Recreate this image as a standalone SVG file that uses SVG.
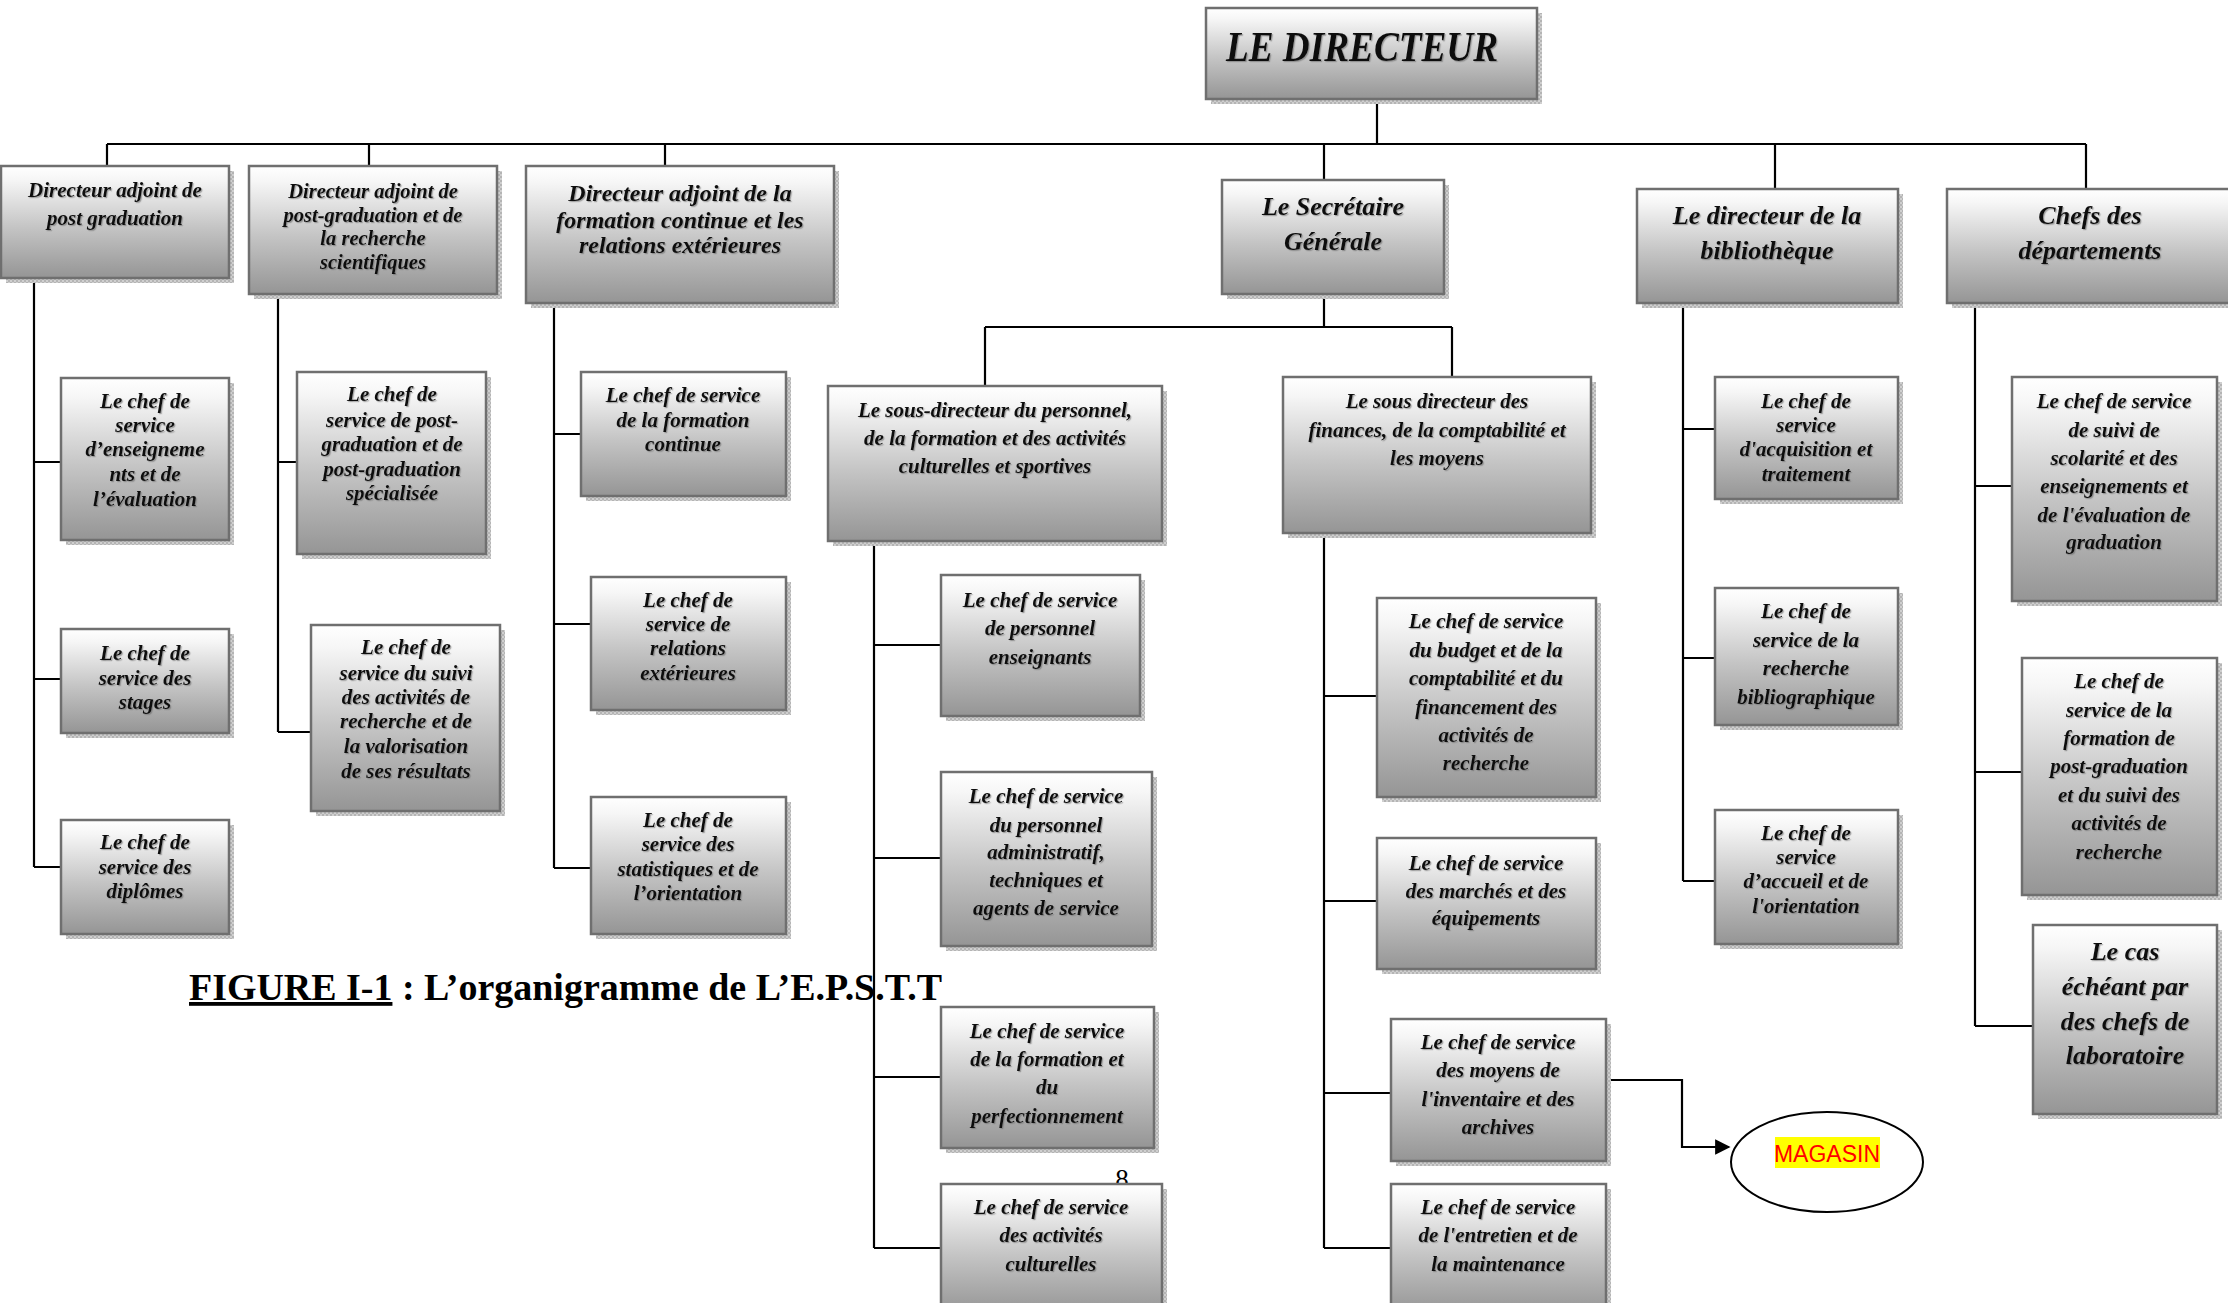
<svg xmlns="http://www.w3.org/2000/svg" width="2228" height="1303" viewBox="0 0 2228 1303">
  <defs>
    <linearGradient id="boxFill" x1="0" y1="0" x2="0" y2="1">
      <stop offset="0" stop-color="#ffffff"/>
      <stop offset="0.12" stop-color="#f6f6f6"/>
      <stop offset="0.55" stop-color="#c4c4c4"/>
      <stop offset="1" stop-color="#959595"/>
    </linearGradient>
    <pattern id="shadowDots" width="4" height="4" patternUnits="userSpaceOnUse">
      <rect width="4" height="4" fill="#cfcfcf"/>
      <rect width="2" height="2" fill="#b4b4b4"/>
      <rect x="2" y="2" width="2" height="2" fill="#b4b4b4"/>
    </pattern>
    <filter id="textShade" x="-5%" y="-20%" width="110%" height="140%">
      <feDropShadow dx="1.2" dy="1.2" stdDeviation="0.7" flood-color="#6a6a6a" flood-opacity="0.55"/>
    </filter>
    <marker id="arrowHead" viewBox="0 0 10 10" refX="9" refY="5" markerWidth="7" markerHeight="7" markerUnits="strokeWidth" orient="auto">
      <path d="M0 0 L10 5 L0 10 Z" fill="#000"/>
    </marker>
  </defs>
  <style>
    .sh { fill: url(#shadowDots); }
    .bx { fill: url(#boxFill); stroke: #6f6f6f; stroke-width: 2.5; }
    .t { font-family: "Liberation Serif", "Times New Roman", serif; font-weight: bold; font-style: italic; fill: #111; text-anchor: middle; filter: url(#textShade); }
    .s21 { font-size: 21px; }
    .s20 { font-size: 20.5px; }
    .s24 { font-size: 24px; }
    .s26 { font-size: 26px; }
    .ln { fill: none; stroke: #000; stroke-width: 2.2; }
  </style>
  <rect width="2228" height="1303" fill="#fff"/>

  <!-- connectors -->
  <g id="connectors" class="ln">
    <path d="M1377 99 V144 M107 144 H2086 M107 144 V166 M369 144 V166 M665 144 V166 M1324 144 V180 M1775 144 V189 M2086 144 V189"/>
    <path d="M34 278 V867 M34 462 H61 M34 679 H61 M34 867 H61"/>
    <path d="M278 294 V732 M278 462 H297 M278 732 H311"/>
    <path d="M554 303 V868 M554 434 H581 M554 624 H591 M554 868 H591"/>
    <path d="M1324 294 V327 M985 327 H1452 M985 327 V386 M1452 327 V377"/>
    <path d="M874 541 V1248 M874 645 H941 M874 858 H941 M874 1077 H941 M874 1248 H941"/>
    <path d="M1324 533 V1248 M1324 696 H1377 M1324 901 H1377 M1324 1093 H1391 M1324 1248 H1391"/>
    <path d="M1683 303 V881 M1683 429 H1715 M1683 658 H1715 M1683 881 H1715"/>
    <path d="M1975 303 V1026 M1975 486 H2012 M1975 772 H2022 M1975 1026 H2033"/>
    <path d="M1606 1080 H1682 V1147 H1729" marker-end="url(#arrowHead)"/>
  </g>

  <!-- page number, partly hidden by the box below it -->
  <text x="1122" y="1188" font-family="Liberation Serif, serif" font-size="27" text-anchor="middle">8</text>

  <!-- top level -->
  <g id="n_dir">
    <rect class="sh" x="1211" y="13" width="331" height="91"/>
    <rect class="bx" x="1206" y="8" width="331" height="91"/>
    <text class="t" x="1226" y="61" font-size="42" style="text-anchor:start" textLength="272" lengthAdjust="spacingAndGlyphs">LE DIRECTEUR</text>
  </g>

  <g id="n_dapg">
    <rect class="sh" x="6" y="171" width="228" height="112"/>
    <rect class="bx" x="1" y="166" width="228" height="112"/>
    <text class="t s21"><tspan x="115" y="197">Directeur adjoint de</tspan><tspan x="115" y="225">post graduation</tspan></text>
  </g>

  <g id="n_dapgr">
    <rect class="sh" x="254" y="171" width="248" height="128"/>
    <rect class="bx" x="249" y="166" width="248" height="128"/>
    <text class="t s20"><tspan x="373" y="198">Directeur adjoint de</tspan><tspan x="373" y="222">post-graduation et de</tspan><tspan x="373" y="245">la recherche</tspan><tspan x="373" y="269">scientifiques</tspan></text>
  </g>

  <g id="n_dafc">
    <rect class="sh" x="531" y="171" width="308" height="137"/>
    <rect class="bx" x="526" y="166" width="308" height="137"/>
    <text class="t s24"><tspan x="680" y="201">Directeur adjoint de la</tspan><tspan x="680" y="228">formation continue et les</tspan><tspan x="680" y="253">relations extérieures</tspan></text>
  </g>

  <g id="n_sg">
    <rect class="sh" x="1227" y="185" width="222" height="114"/>
    <rect class="bx" x="1222" y="180" width="222" height="114"/>
    <text class="t s26"><tspan x="1333" y="215">Le Secrétaire</tspan><tspan x="1333" y="250">Générale</tspan></text>
  </g>

  <g id="n_bib">
    <rect class="sh" x="1642" y="194" width="261" height="114"/>
    <rect class="bx" x="1637" y="189" width="261" height="114"/>
    <text class="t s26"><tspan x="1767" y="224">Le directeur de la</tspan><tspan x="1767" y="259">bibliothèque</tspan></text>
  </g>

  <g id="n_dep">
    <rect class="sh" x="1952" y="194" width="285" height="114"/>
    <rect class="bx" x="1947" y="189" width="285" height="114"/>
    <text class="t s26"><tspan x="2090" y="224">Chefs des</tspan><tspan x="2090" y="259">départements</tspan></text>
  </g>

  <!-- post-graduation branch -->
  <g id="n_ens">
    <rect class="sh" x="66" y="383" width="168" height="162"/>
    <rect class="bx" x="61" y="378" width="168" height="162"/>
    <text class="t s21"><tspan x="145" y="408">Le chef de</tspan><tspan x="145" y="432">service</tspan><tspan x="145" y="456">d’enseigneme</tspan><tspan x="145" y="481">nts et de</tspan><tspan x="145" y="506">l’évaluation</tspan></text>
  </g>
  <g id="n_stg">
    <rect class="sh" x="66" y="634" width="168" height="104"/>
    <rect class="bx" x="61" y="629" width="168" height="104"/>
    <text class="t s21"><tspan x="145" y="660">Le chef de</tspan><tspan x="145" y="685">service des</tspan><tspan x="145" y="709">stages</tspan></text>
  </g>
  <g id="n_dip">
    <rect class="sh" x="66" y="825" width="168" height="114"/>
    <rect class="bx" x="61" y="820" width="168" height="114"/>
    <text class="t s21"><tspan x="145" y="849">Le chef de</tspan><tspan x="145" y="874">service des</tspan><tspan x="145" y="898">diplômes</tspan></text>
  </g>

  <!-- research branch -->
  <g id="n_pgs">
    <rect class="sh" x="302" y="377" width="189" height="182"/>
    <rect class="bx" x="297" y="372" width="189" height="182"/>
    <text class="t s21"><tspan x="392" y="401">Le chef de</tspan><tspan x="392" y="427">service de post-</tspan><tspan x="392" y="451">graduation et de</tspan><tspan x="392" y="476">post-graduation</tspan><tspan x="392" y="500">spécialisée</tspan></text>
  </g>
  <g id="n_val">
    <rect class="sh" x="316" y="630" width="189" height="186"/>
    <rect class="bx" x="311" y="625" width="189" height="186"/>
    <text class="t s21"><tspan x="406" y="654">Le chef de</tspan><tspan x="406" y="680">service du suivi</tspan><tspan x="406" y="704">des activités de</tspan><tspan x="406" y="728">recherche et de</tspan><tspan x="406" y="753">la valorisation</tspan><tspan x="406" y="778">de ses résultats</tspan></text>
  </g>

  <!-- continuing education branch -->
  <g id="n_fc">
    <rect class="sh" x="586" y="377" width="205" height="124"/>
    <rect class="bx" x="581" y="372" width="205" height="124"/>
    <text class="t s21"><tspan x="683" y="402">Le chef de service</tspan><tspan x="683" y="427">de la formation</tspan><tspan x="683" y="451">continue</tspan></text>
  </g>
  <g id="n_rel">
    <rect class="sh" x="596" y="582" width="195" height="133"/>
    <rect class="bx" x="591" y="577" width="195" height="133"/>
    <text class="t s21"><tspan x="688" y="607">Le chef de</tspan><tspan x="688" y="631">service de</tspan><tspan x="688" y="655">relations</tspan><tspan x="688" y="680">extérieures</tspan></text>
  </g>
  <g id="n_sta">
    <rect class="sh" x="596" y="802" width="195" height="137"/>
    <rect class="bx" x="591" y="797" width="195" height="137"/>
    <text class="t s21"><tspan x="688" y="827">Le chef de</tspan><tspan x="688" y="851">service des</tspan><tspan x="688" y="876">statistiques et de</tspan><tspan x="688" y="900">l’orientation</tspan></text>
  </g>

  <!-- secretariat: staff sub-direction -->
  <g id="n_sdp">
    <rect class="sh" x="833" y="391" width="334" height="155"/>
    <rect class="bx" x="828" y="386" width="334" height="155"/>
    <text class="t s21"><tspan x="995" y="417">Le sous-directeur du personnel,</tspan><tspan x="995" y="445">de la formation et des activités</tspan><tspan x="995" y="473">culturelles et sportives</tspan></text>
  </g>
  <g id="n_pe">
    <rect class="sh" x="946" y="580" width="199" height="141"/>
    <rect class="bx" x="941" y="575" width="199" height="141"/>
    <text class="t s21"><tspan x="1040" y="607">Le chef de service</tspan><tspan x="1040" y="635">de personnel</tspan><tspan x="1040" y="664">enseignants</tspan></text>
  </g>
  <g id="n_pa">
    <rect class="sh" x="946" y="777" width="211" height="174"/>
    <rect class="bx" x="941" y="772" width="211" height="174"/>
    <text class="t s21"><tspan x="1046" y="803">Le chef de service</tspan><tspan x="1046" y="832">du personnel</tspan><tspan x="1046" y="859">administratif,</tspan><tspan x="1046" y="887">techniques et</tspan><tspan x="1046" y="915">agents de service</tspan></text>
  </g>
  <g id="n_pf">
    <rect class="sh" x="946" y="1012" width="213" height="141"/>
    <rect class="bx" x="941" y="1007" width="213" height="141"/>
    <text class="t s21"><tspan x="1047" y="1038">Le chef de service</tspan><tspan x="1047" y="1066">de la formation et</tspan><tspan x="1047" y="1094">du</tspan><tspan x="1047" y="1123">perfectionnement</tspan></text>
  </g>
  <g id="n_ac">
    <rect class="sh" x="946" y="1189" width="221" height="130"/>
    <rect class="bx" x="941" y="1184" width="221" height="130"/>
    <text class="t s21"><tspan x="1051" y="1214">Le chef de service</tspan><tspan x="1051" y="1242">des activités</tspan><tspan x="1051" y="1271">culturelles</tspan></text>
  </g>

  <!-- secretariat: finance sub-direction -->
  <g id="n_sdf">
    <rect class="sh" x="1288" y="382" width="308" height="156"/>
    <rect class="bx" x="1283" y="377" width="308" height="156"/>
    <text class="t s21"><tspan x="1437" y="408">Le sous directeur des</tspan><tspan x="1437" y="437">finances, de la comptabilité et</tspan><tspan x="1437" y="465">les moyens</tspan></text>
  </g>
  <g id="n_bud">
    <rect class="sh" x="1382" y="603" width="219" height="199"/>
    <rect class="bx" x="1377" y="598" width="219" height="199"/>
    <text class="t s21"><tspan x="1486" y="628">Le chef de service</tspan><tspan x="1486" y="657">du budget et de la</tspan><tspan x="1486" y="685">comptabilité et du</tspan><tspan x="1486" y="714">financement des</tspan><tspan x="1486" y="742">activités de</tspan><tspan x="1486" y="770">recherche</tspan></text>
  </g>
  <g id="n_mar">
    <rect class="sh" x="1382" y="843" width="219" height="131"/>
    <rect class="bx" x="1377" y="838" width="219" height="131"/>
    <text class="t s21"><tspan x="1486" y="870">Le chef de service</tspan><tspan x="1486" y="898">des marchés et des</tspan><tspan x="1486" y="925">équipements</tspan></text>
  </g>
  <g id="n_moy">
    <rect class="sh" x="1396" y="1024" width="215" height="142"/>
    <rect class="bx" x="1391" y="1019" width="215" height="142"/>
    <text class="t s21"><tspan x="1498" y="1049">Le chef de service</tspan><tspan x="1498" y="1077">des moyens de</tspan><tspan x="1498" y="1106">l'inventaire et des</tspan><tspan x="1498" y="1134">archives</tspan></text>
  </g>
  <g id="n_ent">
    <rect class="sh" x="1396" y="1189" width="215" height="130"/>
    <rect class="bx" x="1391" y="1184" width="215" height="130"/>
    <text class="t s21"><tspan x="1498" y="1214">Le chef de service</tspan><tspan x="1498" y="1242">de l'entretien et de</tspan><tspan x="1498" y="1271">la maintenance</tspan></text>
  </g>

  <g id="n_mag">
    <ellipse cx="1827" cy="1162" rx="96" ry="50" fill="#fff" stroke="#000" stroke-width="2"/>
    <rect x="1775" y="1137" width="105" height="31" fill="#ffff00"/>
    <text x="1827" y="1162" font-family="Liberation Sans, Arial, sans-serif" font-size="23" fill="#ff0000" text-anchor="middle">MAGASIN</text>
  </g>

  <!-- library branch -->
  <g id="n_acq">
    <rect class="sh" x="1720" y="382" width="183" height="122"/>
    <rect class="bx" x="1715" y="377" width="183" height="122"/>
    <text class="t s21"><tspan x="1806" y="408">Le chef de</tspan><tspan x="1806" y="432">service</tspan><tspan x="1806" y="456">d'acquisition et</tspan><tspan x="1806" y="481">traitement</tspan></text>
  </g>
  <g id="n_rb">
    <rect class="sh" x="1720" y="593" width="183" height="137"/>
    <rect class="bx" x="1715" y="588" width="183" height="137"/>
    <text class="t s21"><tspan x="1806" y="618">Le chef de</tspan><tspan x="1806" y="647">service de la</tspan><tspan x="1806" y="675">recherche</tspan><tspan x="1806" y="704">bibliographique</tspan></text>
  </g>
  <g id="n_acc">
    <rect class="sh" x="1720" y="815" width="183" height="134"/>
    <rect class="bx" x="1715" y="810" width="183" height="134"/>
    <text class="t s21"><tspan x="1806" y="840">Le chef de</tspan><tspan x="1806" y="864">service</tspan><tspan x="1806" y="888">d’accueil et de</tspan><tspan x="1806" y="913">l'orientation</tspan></text>
  </g>

  <!-- departments branch -->
  <g id="n_sco">
    <rect class="sh" x="2017" y="382" width="205" height="224"/>
    <rect class="bx" x="2012" y="377" width="205" height="224"/>
    <text class="t s21"><tspan x="2114" y="408">Le chef de service</tspan><tspan x="2114" y="437">de suivi de</tspan><tspan x="2114" y="465">scolarité et des</tspan><tspan x="2114" y="493">enseignements et</tspan><tspan x="2114" y="522">de l'évaluation de</tspan><tspan x="2114" y="549">graduation</tspan></text>
  </g>
  <g id="n_fpg">
    <rect class="sh" x="2027" y="663" width="195" height="237"/>
    <rect class="bx" x="2022" y="658" width="195" height="237"/>
    <text class="t s21"><tspan x="2119" y="688">Le chef de</tspan><tspan x="2119" y="717">service de la</tspan><tspan x="2119" y="745">formation de</tspan><tspan x="2119" y="773">post-graduation</tspan><tspan x="2119" y="802">et du suivi des</tspan><tspan x="2119" y="830">activités de</tspan><tspan x="2119" y="859">recherche</tspan></text>
  </g>
  <g id="n_lab">
    <rect class="sh" x="2038" y="930" width="184" height="189"/>
    <rect class="bx" x="2033" y="925" width="184" height="189"/>
    <text class="t s26"><tspan x="2125" y="960">Le cas</tspan><tspan x="2125" y="995">échéant par</tspan><tspan x="2125" y="1030">des chefs de</tspan><tspan x="2125" y="1064">laboratoire</tspan></text>
  </g>

  <!-- caption -->
  <text x="189" y="1000" font-family="Liberation Serif, 'Times New Roman', serif" font-weight="bold" font-size="38" fill="#000" textLength="753" lengthAdjust="spacingAndGlyphs"><tspan text-decoration="underline">FIGURE I-1</tspan> : L’organigramme de L’E.P.S.T.T</text>
</svg>
